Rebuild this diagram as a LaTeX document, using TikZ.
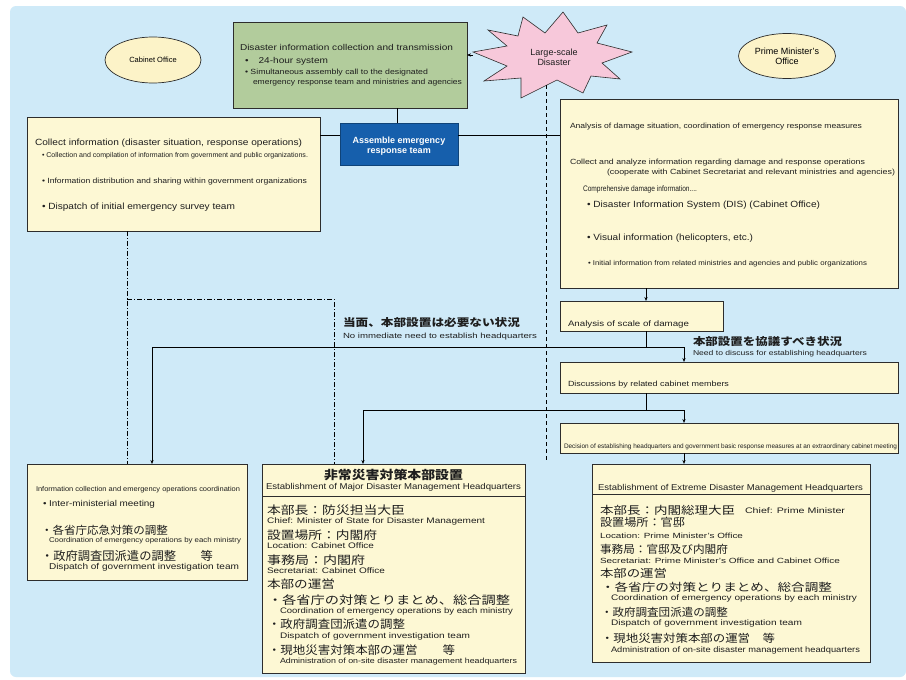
\documentclass[tikz,border=0pt]{standalone}
\usepackage{fontspec}
\usepackage{graphicx}
\setmainfont{Liberation Sans}
\newfontfamily\jp{Noto Sans CJK JP}
\usetikzlibrary{shapes.geometric,fit,arrows.meta}
\definecolor{bgblue}{RGB}{207,234,248}
\definecolor{ybox}{RGB}{253,248,212}
\definecolor{gbox}{RGB}{178,204,156}
\definecolor{bbox}{RGB}{22,95,172}
\definecolor{starpink}{RGB}{247,200,218}
\definecolor{ellfill}{RGB}{252,243,200}
\definecolor{bord}{RGB}{45,45,45}
\definecolor{txtc}{RGB}{30,30,30}
\newcommand\fs[1]{\fontsize{#1}{#1}\selectfont}
\newcommand\mytxt[5]{\node[tx,font=\fs{#3}] (#1) at (#2) {\resizebox{#4pt}{\height}{#5}};}
\tikzset{
  tx/.style={anchor=west,inner sep=0pt,outer sep=0pt,text=txtc},
  boxbase/.style={draw=bord,line width=0.7pt,inner sep=0pt,outer sep=0pt},
  yb/.style={boxbase,fill=ybox},
  gb/.style={boxbase,fill=gbox},
  bb/.style={draw=bbox!70!black,line width=0.7pt,fill=bbox,inner sep=0pt,outer sep=0pt},
  ell/.style={ellipse,draw=bord,line width=0.7pt,fill=ellfill,inner sep=0pt},
  conn/.style={draw=black,line width=0.7pt},
  arr/.style={conn,-{Stealth[length=4pt,width=3.2pt]}},
  dsh/.style={draw=black,line width=0.6pt,dash pattern=on 4pt off 3pt},
  dd/.style={draw=black,line width=0.6pt,dash pattern=on 5pt off 2pt on 1pt off 2pt},
}
\begin{document}
\begin{tikzpicture}[x=1pt,y=-1pt]
\useasboundingbox (0,0) rectangle (906,680);
\fill[white] (0,0) rectangle (906,680);
\fill[bgblue,rounded corners=6pt] (10,6) rectangle (906,677);

% ellipses
\node[ell,minimum width=96pt,minimum height=46pt,font=\fs{7.5}] (cab) at (153,60) {Cabinet Office};
\node[ell,minimum width=97pt,minimum height=45pt,font=\fs{9},align=center] (pm) at (787,56) {Prime Minister’s\\[1pt]Office};

% star
\filldraw[fill=starpink,draw=bord,line width=0.6pt] (473,52) -- (507,46) -- (488,30) -- (518,36) -- (523,17) -- (545,33) -- (563,12) -- (578,33) -- (607,25) -- (597,43) -- (632,52) -- (602,63) -- (620,79) -- (591,76) -- (583,93) -- (557,80) -- (521,98) -- (521,78) -- (484,81) -- (507,66) -- cycle;
\node[font=\fs{9},align=center,inner sep=0pt,text=txtc] (star) at (554,57) {Large-scale\\[1pt]Disaster};
\coordinate (starL) at (473,55);
\coordinate (starB) at (546,85);

% boxes
\node[gb,fit={(233,22) (467,108)}] (green) {};
\node[yb,fit={(27,117) (320,231)}] (lbox) {};
\node[bb,fit={(340,123) (458,165)}] (abox) {};
\node[yb,fit={(560,99) (898,288)}] (rbox) {};
\node[yb,fit={(560,301) (723,331)}] (an) {};
\node[yb,fit={(560,362) (898,393)}] (di) {};
\node[yb,fit={(560,423) (898,453)}] (de) {};
\node[yb,fit={(27,464) (247,580)}] (bl) {};
\node[yb,fit={(262,464) (525,673)}] (bm) {};
\node[yb,fit={(592,464) (870,662)}] (br) {};
\draw[bord,line width=0.7pt] (bm.west |- 0,496) -- (bm.east |- 0,496);
\draw[bord,line width=0.7pt] (br.west |- 0,494) -- (br.east |- 0,494);

% blue box text
\node[font=\fs{9}\bfseries,text=white,align=center,inner sep=0pt] (atxt) at (399,146) {Assemble emergency\\[1pt]response team};

% green texts
\mytxt{g1}{240,47}{8.5}{213}{Disaster information collection and transmission}
\mytxt{g2}{245,61}{8.5}{83}{•\quad 24-hour system}
\mytxt{g3}{245,73}{7.5}{183}{• Simultaneous assembly call to the designated}
\mytxt{g4}{253,83}{7.5}{209}{emergency response team and ministries and agencies}

% left box texts
\mytxt{l1}{35,143}{9}{267}{Collect information (disaster situation, response operations)}
\mytxt{l2}{42,156}{7}{266}{• Collection and compilation of information from government and public organizations.}
\mytxt{l3}{42,182}{7.5}{265}{• Information distribution and sharing within government organizations}
\mytxt{l4}{42,207}{9}{193}{• Dispatch of initial emergency survey team}

% right box texts
\mytxt{r1}{570,127}{7.5}{292}{Analysis of damage situation, coordination of emergency response measures}
\mytxt{r2}{570,163}{7.5}{295}{Collect and analyze information regarding damage and response operations}
\mytxt{r3}{607,173}{7.5}{288}{(cooperate with Cabinet Secretariat and relevant ministries and agencies)}
\mytxt{r4}{583,189}{8}{114}{Comprehensive damage information....}
\mytxt{r5}{587,205}{9}{233}{• Disaster Information System (DIS) (Cabinet Office)}
\mytxt{r6}{587,238}{9}{166}{• Visual information (helicopters, etc.)}
\mytxt{r7}{588,264}{7}{279}{• Initial information from related ministries and agencies and public organizations}

% middle labels
\mytxt{j1}{343,323}{10.5}{177}{\jp\bfseries 当面、本部設置は必要ない状況}
\mytxt{e1}{343,337}{7.5}{194}{No immediate need to establish headquarters}
\mytxt{j2}{693,342}{10.5}{149}{\jp\bfseries 本部設置を協議すべき状況}
\mytxt{e2}{693,354}{7}{174}{Need to discuss for establishing headquarters}
\mytxt{a1}{568,324}{8}{121}{Analysis of scale of damage}
\mytxt{d1}{568,385}{7.5}{161}{Discussions by related cabinet members}
\mytxt{d2}{564,447}{6.5}{333}{Decision of establishing headquarters and government basic response measures at an extraordinary cabinet meeting}

% bottom left
\mytxt{b1}{36,490}{7}{204}{Information collection and emergency operations coordination}
\mytxt{b2}{43,504}{8.5}{112}{• Inter-ministerial meeting}
\mytxt{b3}{41,530}{11}{127}{\jp ・各省庁応急対策の調整}
\mytxt{b4}{49,541}{7}{192}{Coordination of emergency operations by each ministry}
\mytxt{b5}{41,556}{12}{172}{\jp ・政府調査団派遣の調整　　等}
\mytxt{b6}{49,567}{8.5}{190}{Dispatch of government investigation team}

% bottom middle
\mytxt{m0}{324,475}{12}{139}{\jp\bfseries 非常災害対策本部設置}
\mytxt{m1}{266,487}{8.5}{255}{Establishment of Major Disaster Management Headquarters}
\mytxt{m2}{267,510}{11.5}{138}{\jp 本部長：防災担当大臣}
\mytxt{m3}{267,521}{8}{218}{Chief: Minister of State for Disaster Management}
\mytxt{m4}{267,535}{11.5}{110}{\jp 設置場所：内閣府}
\mytxt{m5}{267,546}{8}{107}{Location: Cabinet Office}
\mytxt{m6}{267,560}{11.5}{98}{\jp 事務局：内閣府}
\mytxt{m7}{267,571}{8}{118}{Secretariat: Cabinet Office}
\mytxt{m8}{267,584}{11.5}{68}{\jp 本部の運営}
\mytxt{m9}{268,600}{11.5}{242}{\jp ・各省庁の対策とりまとめ、総合調整}
\mytxt{m10}{280,611}{8}{233}{Coordination of emergency operations by each ministry}
\mytxt{m11}{268,624}{11.5}{137}{\jp ・政府調査団派遣の調整}
\mytxt{m12}{280,636}{8}{190}{Dispatch of government investigation team}
\mytxt{m13}{268,650}{11.5}{187}{\jp ・現地災害対策本部の運営　　等}
\mytxt{m14}{280,662}{7.5}{237}{Administration of on-site disaster management headquarters}

% bottom right
\mytxt{n1}{598,488}{8.5}{265}{Establishment of Extreme Disaster Management Headquarters}
\mytxt{n2}{600,510}{11}{135}{\jp 本部長：内閣総理大臣}
\mytxt{n2e}{745,511}{8}{100}{Chief: Prime Minister}
\mytxt{n3}{600,522}{11}{85}{\jp 設置場所：官邸}
\mytxt{n4}{600,536}{7.5}{143}{Location: Prime Minister’s Office}
\mytxt{n5}{600,549}{11}{128}{\jp 事務局：官邸及び内閣府}
\mytxt{n6}{600,561}{7.5}{240}{Secretariat: Prime Minister’s Office and Cabinet Office}
\mytxt{n7}{600,573}{11}{67}{\jp 本部の運営}
\mytxt{n8}{601,587}{11}{231}{\jp ・各省庁の対策とりまとめ、総合調整}
\mytxt{n9}{611,598}{8}{246}{Coordination of emergency operations by each ministry}
\mytxt{n10}{601,612}{11}{127}{\jp ・政府調査団派遣の調整}
\mytxt{n11}{611,623}{8}{191}{Dispatch of government investigation team}
\mytxt{n12}{601,638}{11}{174}{\jp ・現地災害対策本部の運営　等}
\mytxt{n13}{611,650}{8}{249}{Administration of on-site disaster management headquarters}

% connectors
\coordinate (hj) at (0,135);
\coordinate (vx) at (646,0);
\coordinate (jL) at (152,347);
\coordinate (jR) at (684,347);
\coordinate (kL) at (363,410);
\coordinate (kR) at (684,410);
\coordinate (ddx) at (127,0);
\coordinate (dd1) at (127,299);
\coordinate (dd2) at (334,299);
\coordinate (dashEnd) at (546,460);

\draw[arr] (starL) -- (starL -| green.east);
\draw[conn] (abox.north -| 397,0) -- (green.south -| 397,0);
\draw[conn] (lbox.east |- hj) -- (abox.west |- hj);
\draw[conn] (abox.east |- hj) -- (rbox.west |- hj);
\draw[dsh] (starB) -- (dashEnd);
\draw[dd] (ddx |- lbox.south) -- (ddx |- bl.north);
\draw[dd] (dd1) -- (dd2) -- (dd2 |- bm.north);
\draw[arr] (vx |- rbox.south) -- (vx |- an.north);
\draw[conn] (vx |- an.south) -- (vx |- jR);
\draw[arr] (jR) -- (jR |- di.north);
\draw[arr] (jR) -- (jL) -- (jL |- bl.north);
\draw[conn] (vx |- di.south) -- (vx |- kR);
\draw[arr] (kR) -- (kR |- de.north);
\draw[arr] (kR) -- (kL) -- (kL |- bm.north);
\draw[arr] (kR |- de.south) -- (kR |- br.north);
\end{tikzpicture}
\end{document}
